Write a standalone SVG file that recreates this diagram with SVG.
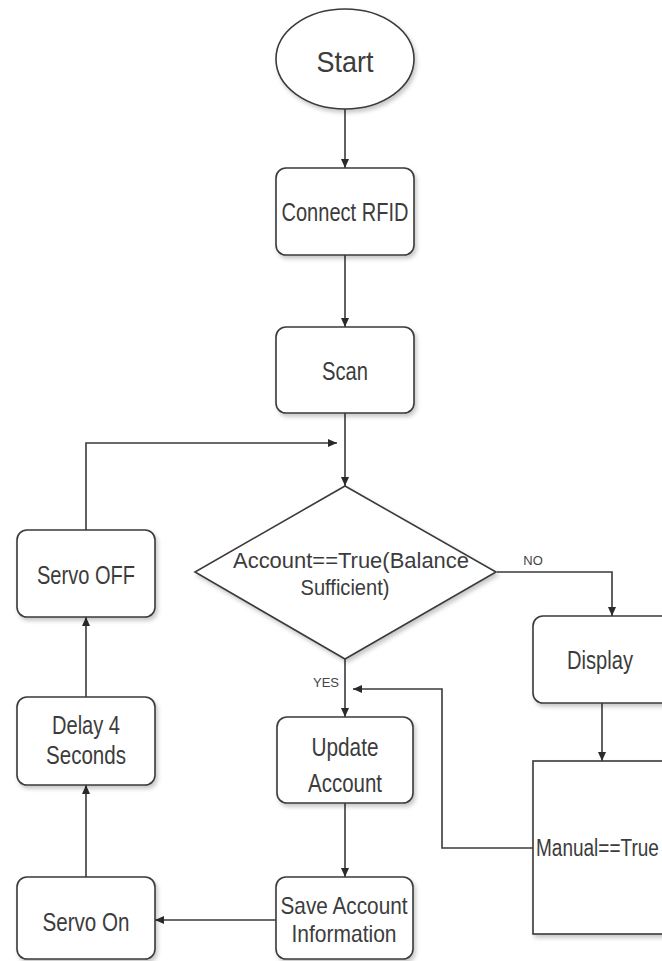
<svg xmlns="http://www.w3.org/2000/svg" width="662" height="961" viewBox="0 0 662 961">
<defs>
<style>
.box{fill:#fff;stroke:#3a3a3a;stroke-width:1.6;filter:url(#sh)}
.t{font-family:"Liberation Sans",Arial,sans-serif;fill:#3c3c3c;text-anchor:middle}
.lbl{font-family:"Liberation Sans",Arial,sans-serif;fill:#444;font-size:13px;text-anchor:middle}
.c{fill:none;stroke:#3a3a3a;stroke-width:1.6;marker-end:url(#ah)}
</style>
<filter id="sh" x="-10%" y="-10%" width="125%" height="130%">
<feDropShadow dx="2" dy="3" stdDeviation="2" flood-color="#000" flood-opacity="0.22"/>
</filter>
<marker id="ah" markerWidth="10" markerHeight="10" refX="9" refY="4" orient="auto" markerUnits="userSpaceOnUse">
<path d="M0,0 L9,4 L0,8 Z" fill="#2a2a2a"/>
</marker>
</defs>
<rect width="662" height="961" fill="#fff"/>

<g id="connectors">
<path class="c" d="M345,109 V168"/>
<path class="c" d="M345,255 V327"/>
<path class="c" d="M345,413 V486"/>
<path class="c" d="M86,530 V443 H337"/>
<path class="c" d="M497,572 H612 V616"/>
<path class="c" d="M602,703 V761"/>
<path class="c" d="M533,848 H442 V689 H353"/>
<path class="c" d="M345,659 V717"/>
<path class="c" d="M345,803 V877"/>
<path class="c" d="M276,920 H155"/>
<path class="c" d="M86,877 V785"/>
<path class="c" d="M86,697 V617"/>
<text class="lbl" x="533" y="565">NO</text>
<text class="lbl" x="326" y="687">YES</text>
</g>

<g id="start">
<ellipse class="box" cx="345" cy="59" rx="69" ry="50"/>
<text class="t" x="345" y="72" font-size="30" textLength="57" lengthAdjust="spacingAndGlyphs">Start</text>
</g>

<g id="connect-rfid">
<rect class="box" x="276" y="168" width="138" height="87" rx="10"/>
<text class="t" x="345" y="221" font-size="26" textLength="127" lengthAdjust="spacingAndGlyphs">Connect RFID</text>
</g>

<g id="scan">
<rect class="box" x="276" y="327" width="138" height="86" rx="10"/>
<text class="t" x="345" y="380" font-size="26" textLength="46" lengthAdjust="spacingAndGlyphs">Scan</text>
</g>

<g id="decision">
<polygon class="box" points="345,486 496,572 345,659 195,572"/>
<text class="t" x="351" y="568" font-size="22" textLength="236" lengthAdjust="spacingAndGlyphs">Account==True(Balance</text>
<text class="t" x="345" y="595" font-size="22" textLength="89" lengthAdjust="spacingAndGlyphs">Sufficient)</text>
</g>

<g id="display">
<rect class="box" x="533" y="616" width="160" height="87" rx="10"/>
<text class="t" x="600" y="669" font-size="25" textLength="66" lengthAdjust="spacingAndGlyphs">Display</text>
</g>

<g id="manual">
<rect class="box" x="533" y="761" width="160" height="173"/>
<text class="t" transform="translate(536,856) scale(1,1.25)" x="0" y="0" font-size="19" style="text-anchor:start">Manual==True</text>
</g>

<g id="update-account">
<rect class="box" x="277" y="717" width="136" height="86" rx="10"/>
<text class="t" x="345" y="756" font-size="25" textLength="67" lengthAdjust="spacingAndGlyphs">Update</text>
<text class="t" x="345" y="792" font-size="25" textLength="74" lengthAdjust="spacingAndGlyphs">Account</text>
</g>

<g id="save-account">
<rect class="box" x="276" y="877" width="137" height="82" rx="10"/>
<text class="t" x="344" y="914" font-size="24" textLength="127" lengthAdjust="spacingAndGlyphs">Save Account</text>
<text class="t" x="344" y="942" font-size="24" textLength="105" lengthAdjust="spacingAndGlyphs">Information</text>
</g>

<g id="servo-on">
<rect class="box" x="17" y="877" width="138" height="82" rx="10"/>
<text class="t" x="86" y="931" font-size="25" textLength="87" lengthAdjust="spacingAndGlyphs">Servo On</text>
</g>

<g id="delay">
<rect class="box" x="17" y="697" width="138" height="88" rx="10"/>
<text class="t" x="86" y="734" font-size="25" textLength="68" lengthAdjust="spacingAndGlyphs">Delay 4</text>
<text class="t" x="86" y="764" font-size="25" textLength="80" lengthAdjust="spacingAndGlyphs">Seconds</text>
</g>

<g id="servo-off">
<rect class="box" x="17" y="530" width="138" height="87" rx="10"/>
<text class="t" x="86" y="584" font-size="25" textLength="98" lengthAdjust="spacingAndGlyphs">Servo OFF</text>
</g>
</svg>
